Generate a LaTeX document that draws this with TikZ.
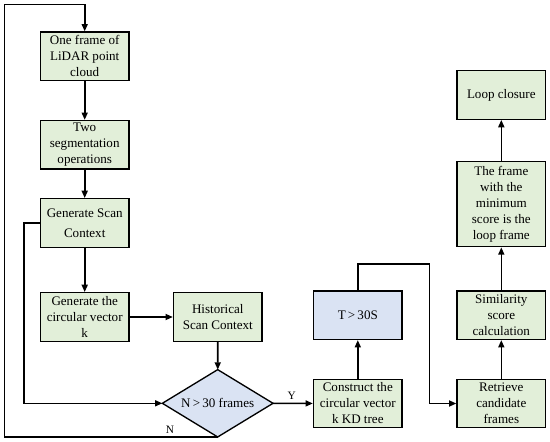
\documentclass[tikz,border=0pt]{standalone}
\usepackage{fontspec}
\setmainfont{Liberation Serif}
\usetikzlibrary{shapes.geometric,arrows.meta}
\definecolor{boxgreen}{HTML}{E2EFD9}
\definecolor{boxblue}{HTML}{DAE3F3}
\begin{document}
\begin{tikzpicture}[x=0.75pt,y=-0.75pt,
  box/.style={draw=black,line width=1pt,fill=boxgreen,minimum width=66.4pt,minimum height=36.4pt,
    align=center,inner sep=1pt,font=\fontsize{9.8}{12}\selectfont},
  bluebox/.style={box,fill=boxblue},
  dec/.style={diamond,aspect=1.64,draw=black,line width=1pt,fill=boxblue,minimum width=83pt,minimum height=50.5pt,
    inner sep=0pt,outer sep=0pt,font=\fontsize{9.8}{12}\selectfont},
  arr/.style={line width=1.2pt,-{Triangle[length=5.5pt,width=4.5pt]}},
  lbl/.style={font=\fontsize{8.5}{10}\selectfont,inner sep=1pt}]
\useasboundingbox (0,0) rectangle (550,442);
\node[box] (n1) at (84.7,56.3) {One frame of\\LiDAR point\\cloud};
\node[box] (n2) at (84.7,144.8) {Two\\segmentation\\operations};
\node[box] (n3) at (84.7,223) {Generate Scan\\[3pt]Context};
\node[box] (n4) at (84.7,317) {Generate the\\circular vector\\k};
\node[box] (n5) at (217.8,317) {Historical\\Scan Context};
\node[dec] (d) at (217.7,403.3) {N{\,}>{\,}30 frames};
\node[box] (n6) at (357.8,403.5) {Construct the\\circular vector\\k KD tree};
\node[bluebox] (n7) at (357.8,315.2) {T{\,}>{\,}30S};
\node[box] (n8) at (501.3,403.5) {Retrieve\\candidate\\frames};
\node[box] (n9) at (501.3,315.2) {Similarity\\score\\calculation};
\node[box,minimum height=63.75pt] (n10) at (501.3,204.2) {The frame\\with the\\minimum\\score is the\\loop frame};
\node[box] (n11) at (501.3,95) {Loop closure};
\coordinate (c2) at (429.3,264);
\coordinate (la) at (24,403.3);
\coordinate (lc) at (4.3,4.7);
\draw[arr] (n1) -- (n2);
\draw[arr] (n2) -- (n3);
\draw[arr] (n3) -- (n4);
\draw[arr] (n4) -- (n5);
\draw[arr] (n5) -- (d);
\draw[arr] (d) -- (n6);
\node[lbl] (ly) at (291.7,396) {Y};
\draw[arr] (n6) -- (n7);
\draw[arr] (n7.north) |- (c2) |- (n8.west);
\draw[arr] (n8) -- (n9);
\draw[arr] (n9) -- (n10);
\draw[arr] (n10) -- (n11);
\draw[arr] (n3.west) -| (la) -- (d.west);
\draw[arr] (d.south) -| (lc) -| (n1.north);
\node[lbl] (ln) at (170,430) {N};
\end{tikzpicture}
\end{document}
